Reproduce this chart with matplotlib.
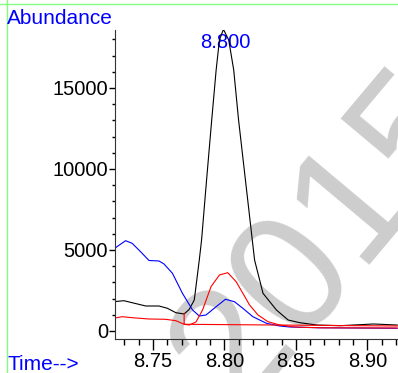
import matplotlib
matplotlib.use("Agg")
import matplotlib.pyplot as plt
from matplotlib.ticker import MultipleLocator

plt.rcParams['font.family'] = ['Liberation Sans', 'DejaVu Sans']

# =========================
# DATA
# =========================
black_t = [8.7225, 8.7296, 8.7354, 8.7449, 8.7542, 8.7601, 8.7660, 8.7718, 8.7754,
           8.7789, 8.7824, 8.7840, 8.7875, 8.7911, 8.7942, 8.7965, 8.7993, 8.8030,
           8.8065, 8.8099, 8.8147, 8.8195, 8.8211, 8.8270, 8.8364, 8.8446, 8.8528,
           8.8646, 8.8810, 8.9044, 8.9209]
black_v = [1809, 1870, 1747, 1543, 1543, 1401, 1130, 1049, 1340,
           1914, 4383, 5617, 9321, 13025, 16111, 17963, 18623, 17963,
           16111, 13025, 9321, 5617, 4383, 2327, 1296, 679, 512,
           370, 327, 432, 370]

blue_t = [8.7225, 8.7308, 8.7354, 8.7413, 8.7472, 8.7542, 8.7577, 8.7636, 8.7706,
          8.7777, 8.7824, 8.7871, 8.7942, 8.8007, 8.8070, 8.8129, 8.8199, 8.8294,
          8.8387, 8.8458, 8.8669, 8.9209]
blue_v = [5062, 5574, 5414, 4895, 4352, 4321, 4136, 3562, 2327,
          1296, 926, 988, 1500, 1957, 1809, 1401, 883, 475,
          309, 247, 198, 167]

red_t = [8.7225, 8.7284, 8.7354, 8.7472, 8.7589, 8.7660, 8.7718, 8.7754, 8.7801,
         8.7847, 8.7906, 8.7965, 8.8023, 8.8082, 8.8129, 8.8176, 8.8235, 8.8305,
         8.8387, 8.8493, 8.8669, 8.9209]
red_v = [784, 883, 821, 741, 722, 636, 414, 370, 556,
         1296, 2735, 3457, 3599, 3043, 2327, 1605, 988, 574,
         370, 247, 198, 185]

# integration baseline + start marker
base_t = [8.7718, 8.7718, 8.9215]
base_v = [1090, 414, 309]

peak_label = "8.800"
peak_t = 8.8005
peak_label_v = 17470

x_major = [8.75, 8.80, 8.85, 8.90]
y_major = [0, 5000, 10000, 15000]

# =========================
# FIGURE
# =========================
W, H = 398, 373
fig = plt.figure(figsize=(W / 100, H / 100), dpi=100)
ax = fig.add_axes([115 / W, 1 - 339 / H, (W - 115) / W, (339 - 30) / H])
ax.patch.set_visible(False)

# watermark
fig.text(238 / W, 1 - 412 / H, "2015", rotation=50, rotation_mode='anchor',
         ha='left', va='baseline', fontsize=122, color='#cdcdcd', zorder=-5)

# frame lines
fig.add_artist(plt.Line2D([0, 1], [1 - 4.3 / H] * 2, color='#80ff80', lw=1.0))
fig.add_artist(plt.Line2D([6.8 / W] * 2, [0, 1], color='#80ff80', lw=1.0))

ax.plot(black_t, black_v, color='black', lw=0.8)
ax.plot(blue_t, blue_v, color='#0000ff', lw=0.8)
ax.plot(red_t, red_v, color='#ff0000', lw=0.8)
ax.plot(base_t, base_v, color='#ff0000', lw=0.8)

ax.text(peak_t, peak_label_v, peak_label, color='#0000ff', fontsize=14.5,
        ha='center', va='baseline', zorder=1)

ax.set_xlim(8.7234, 8.9215)
ax.set_ylim(-494, 18580)

ax.spines['top'].set_visible(False)
ax.spines['right'].set_visible(False)
ax.spines['left'].set_color('#333333')
ax.spines['bottom'].set_color('#333333')

ax.set_xticks(x_major)
ax.set_xticklabels([f"{x:.2f}" for x in x_major])
ax.set_yticks(y_major)
ax.set_yticklabels([str(y) for y in y_major])
ax.xaxis.set_minor_locator(MultipleLocator(0.01))
ax.yaxis.set_minor_locator(MultipleLocator(1000))

ax.tick_params(axis='x', which='major', direction='out', length=8, width=1, pad=1.5, labelsize=14.5)
ax.tick_params(axis='x', which='minor', direction='out', length=4.5, width=1)
ax.tick_params(axis='y', which='major', direction='out', length=4, width=1, pad=1, labelsize=14.5)
ax.tick_params(axis='y', which='minor', direction='out', length=2.5, width=1)

fig.text(7.3 / W, 1 - 24 / H, "Abundance", color='#0000ff', fontsize=15,
         ha='left', va='baseline')
fig.text(7 / W, 1 - 370 / H, "Time-->", color='#0000ff', fontsize=15,
         ha='left', va='baseline')

plt.savefig("out.png", dpi=100)
